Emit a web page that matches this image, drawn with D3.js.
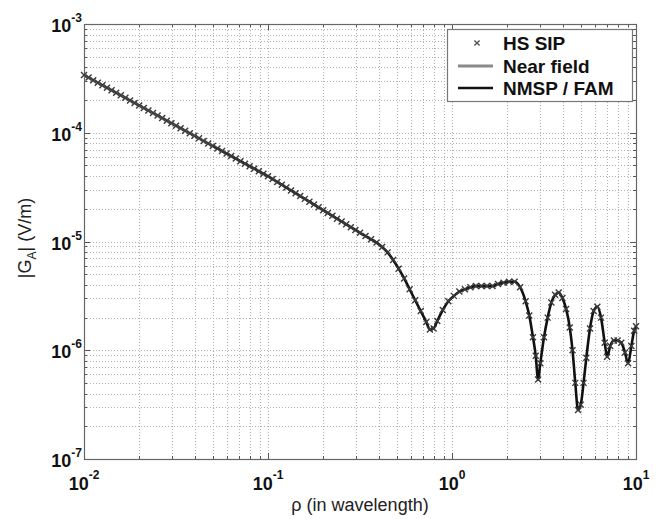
<!DOCTYPE html>
<html><head><meta charset="utf-8">
<script src="https://cdn.jsdelivr.net/npm/d3@7"></script>
<style>body{margin:0;background:#fff}svg{display:block}text{font-family:"Liberation Sans",Arial,sans-serif}</style>
</head><body><svg id="c" width="664" height="519"></svg>
<script>
// ---- data (rho and |G_A| given as log10 exponents) ----
const nearRhoExp = [-2.0, -1.9, -1.8, -1.7, -1.6, -1.5, -1.4, -1.3];
const nearGExp   = [-3.47, -3.563, -3.656, -3.749, -3.842, -3.935, -4.028, -4.121];

const rhoExp = [-2.000,-1.975,-1.950,-1.925,-1.900,-1.875,-1.850,-1.825,-1.800,-1.775,-1.750,-1.725,-1.700,-1.675,-1.650,-1.625,-1.600,-1.575,-1.550,-1.525,-1.500,-1.475,-1.450,-1.425,-1.400,-1.375,-1.350,-1.325,-1.300,-1.275,-1.250,-1.225,-1.200,-1.175,-1.150,-1.125,-1.100,-1.075,-1.050,-1.025,-1.000,-0.975,-0.950,-0.925,-0.900,-0.875,-0.850,-0.825,-0.800,-0.775,-0.750,-0.725,-0.700,-0.675,-0.650,-0.625,-0.600,-0.575,-0.550,-0.525,
 -0.50,-0.47,-0.44,-0.41,-0.38,-0.35,-0.32,-0.29,-0.26,-0.23,-0.20,-0.17,-0.14,-0.12,-0.10,-0.08,-0.05,-0.02,0.01,0.04,0.07,0.10,0.13,0.16,0.19,0.22,0.25,0.28,0.31,0.34,0.37,0.40,0.42,0.44,0.455,0.468,0.48,0.50,0.52,0.54,0.56,0.58,0.60,0.62,0.64,0.655,0.67,0.685,0.70,0.715,0.73,0.75,0.77,0.79,0.81,0.83,0.843,0.86,0.88,0.90,0.92,0.94,0.957,0.975,0.99,1.00];
const gExp = [-3.470,-3.493,-3.517,-3.540,-3.563,-3.586,-3.610,-3.633,-3.656,-3.679,-3.703,-3.726,-3.749,-3.772,-3.796,-3.819,-3.842,-3.865,-3.889,-3.912,-3.935,-3.958,-3.982,-4.005,-4.028,-4.051,-4.075,-4.098,-4.121,-4.144,-4.168,-4.191,-4.214,-4.237,-4.261,-4.284,-4.307,-4.330,-4.354,-4.377,-4.400,-4.426,-4.452,-4.478,-4.504,-4.530,-4.556,-4.582,-4.608,-4.634,-4.660,-4.686,-4.712,-4.738,-4.764,-4.790,-4.816,-4.842,-4.868,-4.894,
 -4.92,-4.95,-4.98,-5.01,-5.05,-5.10,-5.17,-5.25,-5.34,-5.44,-5.54,-5.64,-5.74,-5.81,-5.80,-5.73,-5.63,-5.55,-5.50,-5.46,-5.44,-5.42,-5.41,-5.41,-5.41,-5.41,-5.39,-5.38,-5.37,-5.37,-5.42,-5.55,-5.68,-5.88,-6.05,-6.27,-6.12,-5.88,-5.70,-5.56,-5.49,-5.47,-5.52,-5.62,-5.79,-6.00,-6.30,-6.55,-6.50,-6.30,-6.07,-5.80,-5.64,-5.60,-5.70,-5.93,-6.06,-5.96,-5.91,-5.91,-5.93,-6.02,-6.12,-5.96,-5.82,-5.78];
const fieldStartRho = 0.05;   // NMSP / FAM curve drawn from here on

const xTickExp = [-2, -1, 0, 1];
const yTickExp = [-7, -6, -5, -4, -3];
const legendLabels = ["HS SIP", "Near field", "NMSP / FAM"];

// ---- build ----
const svg = d3.select("#c");
const L = 84, R = 636, T = 24, B = 459;
const x = d3.scaleLog().domain([1e-2, 1e1]).range([L, R]);
const y = d3.scaleLog().domain([1e-7, 1e-3]).range([B, T]);
const p10 = e => Math.pow(10, e);

const pts = rhoExp.map((r, i) => ({r: p10(r), g: p10(gExp[i])}));
const nearPts = nearRhoExp.map((r, i) => ({r: p10(r), g: p10(nearGExp[i])}));

function minors(domainExps) {
  const out = [];
  for (let e = domainExps[0]; e < domainExps[domainExps.length - 1]; e++)
    for (let k = 2; k <= 9; k++) out.push(k * p10(e));
  return out;
}
const xMaj = xTickExp.map(p10), yMaj = yTickExp.map(p10);
const xMin = minors(xTickExp), yMin = minors(yTickExp);

// grid
const grid = svg.append("g").attr("stroke", "#b0b0b0").attr("stroke-width", 1).attr("stroke-dasharray", "1,2");
xMaj.concat(xMin).forEach(v => grid.append("line").attr("x1", Math.round(x(v)) + 0.5).attr("x2", Math.round(x(v)) + 0.5).attr("y1", T).attr("y2", B));
yMaj.concat(yMin).forEach(v => grid.append("line").attr("y1", Math.round(y(v)) + 0.5).attr("y2", Math.round(y(v)) + 0.5).attr("x1", L).attr("x2", R));

// ticks (inward on all sides)
const tk = svg.append("g").attr("stroke", "#555").attr("stroke-width", 1);
xMaj.forEach(v => { const px = Math.round(x(v)) + 0.5;
  tk.append("line").attr("x1", px).attr("x2", px).attr("y1", B).attr("y2", B - 6);
  tk.append("line").attr("x1", px).attr("x2", px).attr("y1", T).attr("y2", T + 6); });
xMin.forEach(v => { const px = Math.round(x(v)) + 0.5;
  tk.append("line").attr("x1", px).attr("x2", px).attr("y1", B).attr("y2", B - 3);
  tk.append("line").attr("x1", px).attr("x2", px).attr("y1", T).attr("y2", T + 3); });
yMaj.forEach(v => { const py = Math.round(y(v)) + 0.5;
  tk.append("line").attr("y1", py).attr("y2", py).attr("x1", L).attr("x2", L + 6);
  tk.append("line").attr("y1", py).attr("y2", py).attr("x1", R).attr("x2", R - 6); });
yMin.forEach(v => { const py = Math.round(y(v)) + 0.5;
  tk.append("line").attr("y1", py).attr("y2", py).attr("x1", L).attr("x2", L + 3);
  tk.append("line").attr("y1", py).attr("y2", py).attr("x1", R).attr("x2", R - 3); });

// frame
svg.append("rect").attr("x", L + 0.5).attr("y", T + 0.5).attr("width", R - L).attr("height", B - T)
  .attr("fill", "none").attr("stroke", "#666").attr("stroke-width", 1.2);

// curves
const line = d3.line().x(d => x(d.r)).y(d => y(d.g)).curve(d3.curveMonotoneX);
svg.append("path").datum(pts.filter(d => d.r >= fieldStartRho - 1e-9)).attr("d", line)
  .attr("fill", "none").attr("stroke", "#111").attr("stroke-width", 2.6);
svg.append("path").datum(nearPts).attr("d", line)
  .attr("fill", "none").attr("stroke", "#8a8a8a").attr("stroke-width", 3);

// markers (x)
const mk = svg.append("g").attr("stroke", "#3a3a3a").attr("stroke-width", 1.4);
const ms = 3;
pts.forEach(d => { const cx = x(d.r), cy = y(d.g);
  mk.append("path").attr("d", `M${cx-ms},${cy-ms}L${cx+ms},${cy+ms}M${cx-ms},${cy+ms}L${cx+ms},${cy-ms}`); });

// tick labels
const yl = svg.append("g").attr("font-weight", "bold").attr("fill", "#111");
yTickExp.forEach(e => {
  const t = yl.append("text").attr("x", 82).attr("y", y(p10(e)) + 8).attr("text-anchor", "end").attr("font-size", 18);
  t.append("tspan").text("10");
  t.append("tspan").attr("dy", -10).attr("font-size", 12).text(String(e));
});
xTickExp.forEach(e => {
  const t = yl.append("text").attr("x", x(p10(e))).attr("y", 490).attr("text-anchor", "middle").attr("font-size", 18);
  t.append("tspan").text("10");
  t.append("tspan").attr("dy", -11).attr("font-size", 12).text(String(e));
});

// axis titles
svg.append("text").attr("x", 360).attr("y", 511).attr("text-anchor", "middle").attr("font-size", 18).attr("fill", "#222")
  .text("ρ (in wavelength)");
const yt = svg.append("text").attr("transform", "translate(31,238) rotate(-90)").attr("text-anchor", "middle")
  .attr("font-size", 18).attr("fill", "#222");
yt.append("tspan").text("|G");
yt.append("tspan").attr("dy", 5).attr("font-size", 12).text("A");
yt.append("tspan").attr("dy", -5).text("| (V/m)");

// legend
const lg = svg.append("g");
lg.append("rect").attr("x", 447.5).attr("y", 29.5).attr("width", 185).attr("height", 72)
  .attr("fill", "#fff").attr("stroke", "#777").attr("stroke-width", 1.2);
const rows = [43, 66, 88];
const lx = 477, lms = 2.6;
lg.append("path").attr("d", `M${lx-lms},${rows[0]-lms}L${lx+lms},${rows[0]+lms}M${lx-lms},${rows[0]+lms}L${lx+lms},${rows[0]-lms}`)
  .attr("stroke", "#555").attr("stroke-width", 1.4);
lg.append("line").attr("x1", 458).attr("x2", 493).attr("y1", rows[1]).attr("y2", rows[1]).attr("stroke", "#8a8a8a").attr("stroke-width", 2.8);
lg.append("line").attr("x1", 458).attr("x2", 493).attr("y1", rows[2]).attr("y2", rows[2]).attr("stroke", "#111").attr("stroke-width", 2.6);
legendLabels.forEach((s, i) => lg.append("text").attr("x", 503).attr("y", rows[i] + 7)
  .attr("font-size", 19).attr("font-weight", "bold").attr("fill", "#111").text(s));
</script></body></html>
